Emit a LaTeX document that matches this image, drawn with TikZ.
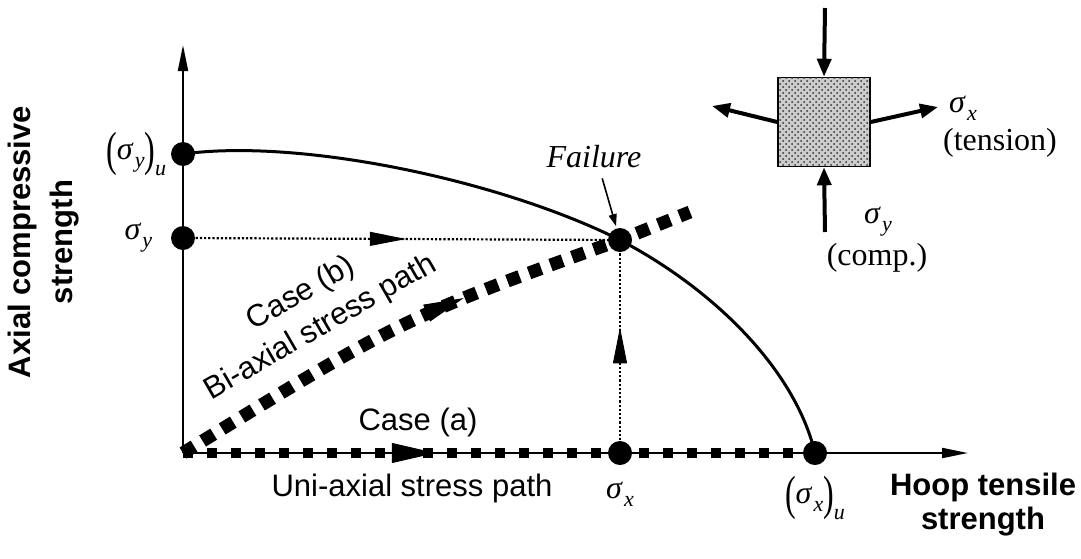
\documentclass[tikz,border=0pt]{standalone}
\usepackage{graphicx}
\usepackage{fontspec}
\setmainfont{Liberation Serif}
\setsansfont{Liberation Sans}
\usetikzlibrary{arrows.meta,positioning,decorations.markings,patterns,backgrounds}
\newcommand{\sgm}[1]{\textit{σ}\kern0.5pt\raisebox{-0.55ex}{\fontsize{11}{11}\selectfont\textit{#1}}}
\newcommand{\ult}[1]{\raisebox{-0.4ex}{\scalebox{1}[1.5]{(}}#1\raisebox{-0.4ex}{\scalebox{1}[1.5]{)}}%
  \raisebox{-1.1ex}{\fontsize{11}{11}\selectfont\textit{u}}}

\begin{document}
\begin{tikzpicture}[x=0.5pt, y=-0.5pt,
  lab/.style={font=\sffamily\fontsize{15.5}{19.5}\selectfont, align=center, inner sep=0pt},
  blab/.style={font=\sffamily\bfseries\fontsize{15.5}{17}\selectfont,
               align=center, inner sep=0pt},
  mlab/.style={font=\fontsize{16}{19}\selectfont, align=center, inner sep=1pt},
  dot/.style={circle, fill, inner sep=0pt, minimum size=12pt},
  axis/.style={line width=1pt, -{Triangle[length=13pt, width=5pt]}},
  sarr/.style={line width=2pt, -{Triangle[length=9pt, width=7pt]}},
  guide/.style={densely dotted, line width=1.1pt},
  upath/.style={line width=5pt, dash pattern=on 5pt off 7pt},
  bpath/.style={line width=6.5pt, dash pattern=on 6.5pt off 5pt},
  midarr/.style 2 args={postaction={decorate}, decoration={markings,
      mark=at position #1 with {\arrow[line width=0.5pt]{#2}}}}]
\useasboundingbox (0,0) rectangle (1081,558);

% points on the axes and the failure envelope
\coordinate (O) at (183,453);
\coordinate (ytop) at (183,45);
\coordinate (xend) at (968,453);
\coordinate (bend) at (690,212);
\node[dot] (syu) at (183,154) {};
\node[dot] (sy) at (183,238) {};
\node[dot] (fail) at (620,240) {};
\node[dot] (sx) at (620,453) {};
\node[dot] (sxu) at (815,453) {};

\begin{scope}[on background layer]
\draw[axis] (O) -- (ytop);
\draw[axis] (O) -- (xend);
\draw[line width=1.5pt] (syu.center) .. controls (300,138) and (500,180) .. (fail.center)
  .. controls (715,290) and (795,370) .. (sxu.center);
\draw[guide, midarr={0.51}{Triangle[length=18pt, width=7pt]}] (sy.center) -- (fail.center);
\draw[guide, midarr={0.59}{Triangle[length=18pt, width=7pt]}] (sx.center) -- (fail.center);
\draw[upath, midarr={0.4}{Triangle[length=22pt, width=10pt]}] (O) -- (sxu.center);
\draw[bpath, midarr={0.57}{Triangle[length=20pt, width=9pt]}] (O)
  .. controls (401.7,318.6) .. (fail.center) -- (bend);
\end{scope}

% labels
\node[mlab, left=1pt of syu] (syulab) {\ult{\sgm{y}}};
\node[mlab, left=8pt of sy] (sylab) {\sgm{y}};
\node[mlab, below=7pt of sx] (sxlab) {\sgm{x}};
\node[mlab, below=4pt of sxu] (sxulab) {\ult{\sgm{x}}};
\node[mlab, font=\itshape\fontsize{16}{19}\selectfont] (failtxt) at (594,157) {Failure};
\draw[-{Triangle[length=6pt, width=4pt]}, line width=0.8pt, shorten <=4pt, shorten >=1pt]
  ([xshift=3pt]failtxt.south) -- (fail);

\node[lab] (casea) at (418,422) {Case (a)};
\node[lab] (unilab) at (412,488) {Uni-axial stress path};
\node[lab, rotate=30] (caseb) at (311,311) {Case (b)\\Bi-axial stress path};

\node[blab, rotate=90, font=\sffamily\bfseries\fontsize{15.5}{21}\selectfont]
  (ytitle) at (44,242) {Axial compressive\\strength};
\node[blab] (xtitle) at (983,505) {Hoop tensile\\strength};

% stress element
\node[draw, line width=0.8pt, fill=gray!40,
      postaction={pattern=crosshatch dots, pattern color=black!80},
      minimum width=46pt, minimum height=44.5pt, inner sep=0pt] (elem) at (824,122) {};
\coordinate (ntop) at (825,8);
\coordinate (nbot) at (825,232);
\coordinate (wtip) at (712,106);
\coordinate (etip) at (938,107);
\draw[sarr] (ntop) -- (elem.north);
\draw[sarr] (nbot) -- (elem.south);
\draw[sarr] (elem.west) -- (wtip);
\draw[sarr] (elem.east) -- (etip);
\node[mlab] (sxel) at (963,108) {\sgm{x}};
\node[mlab] (tension) at (1000,143) {(tension)};
\node[mlab] (syel) at (878,222) {\sgm{y}};
\node[mlab] (comp) at (877,258) {(comp.)};
\end{tikzpicture}
\end{document}
